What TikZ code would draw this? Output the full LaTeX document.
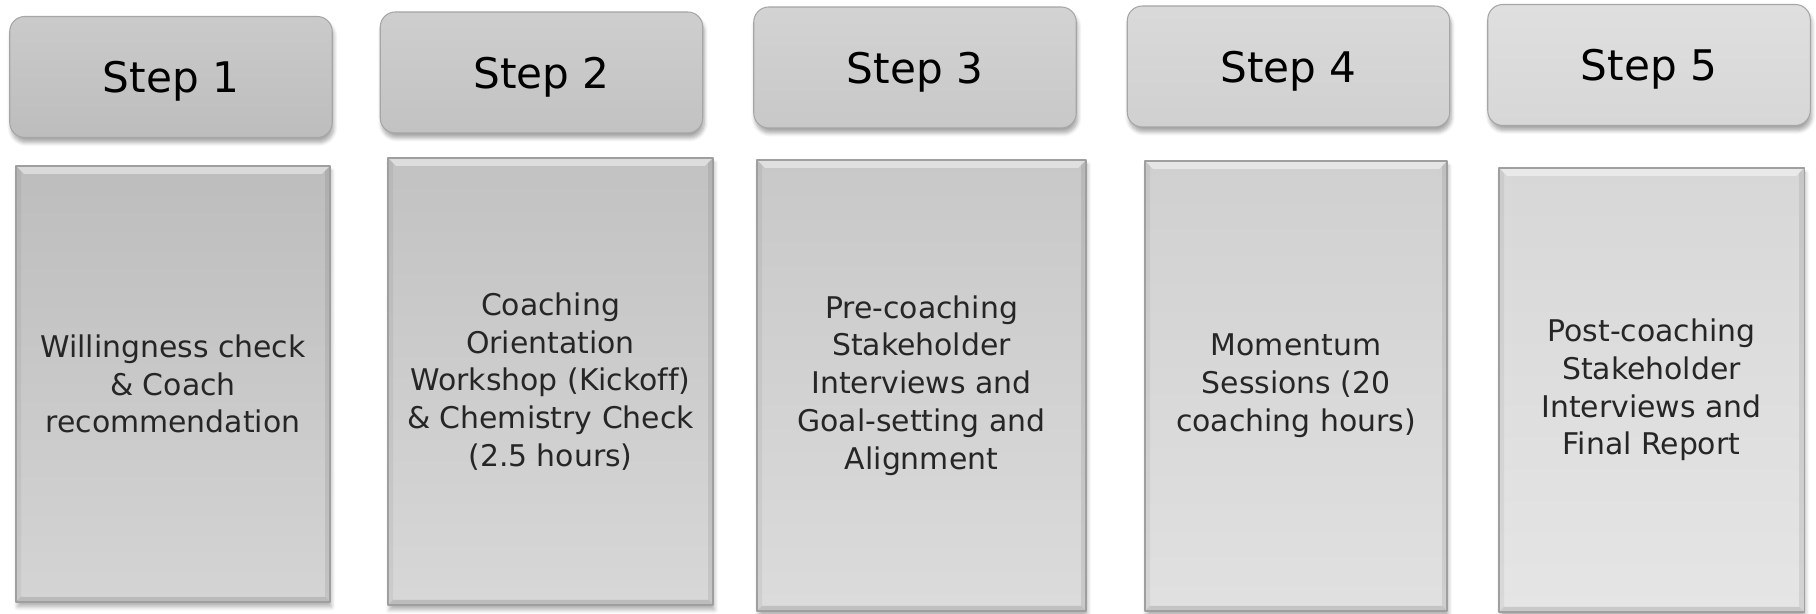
\documentclass[tikz,border=0pt]{standalone}
\usepackage{fontspec}
\setmainfont[Ligatures={NoCommon}]{DejaVu Sans}
\usepackage{tikz}
\usetikzlibrary{calc,shadows.blur}

\definecolor{stepA}{HTML}{BDBDBD}
\definecolor{stepB}{HTML}{C2C2C2}
\definecolor{stepC}{HTML}{C8C8C8}
\definecolor{stepD}{HTML}{D0D0D0}
\definecolor{stepE}{HTML}{D7D7D7}

\newcommand{\bodybevel}{%
  \fill[white,opacity=.45] (path picture bounding box.north west) -- (path picture bounding box.north east)
    -- ++(-0.16cm,-0.16cm) -- ($(path picture bounding box.north west)+(0.16cm,-0.16cm)$) -- cycle;
  \fill[black,opacity=.08] (path picture bounding box.north east) -- (path picture bounding box.south east)
    -- ++(-0.1cm,0.1cm) -- ($(path picture bounding box.north east)+(-0.1cm,-0.1cm)$) -- cycle;
  \fill[black,opacity=.12] (path picture bounding box.south west) -- (path picture bounding box.south east)
    -- ++(-0.1cm,0.1cm) -- ($(path picture bounding box.south west)+(0.1cm,0.1cm)$) -- cycle;
  \fill[black,opacity=.05] (path picture bounding box.north west) -- (path picture bounding box.south west)
    -- ++(0.1cm,0.1cm) -- ($(path picture bounding box.north west)+(0.1cm,-0.1cm)$) -- cycle;}

\tikzset{
  stephead/.style={rounded corners=0.3cm, draw=gray!70, line width=0.6pt,
    top color=#1!80!white, bottom color=#1, inner sep=0pt,
    minimum width=6.45cm, minimum height=2.42cm, text depth=0pt,
    font=\fontsize{24}{28}\selectfont,
    blur shadow={shadow xshift=0.03cm, shadow yshift=-0.1cm, shadow opacity=35, shadow blur steps=6}},
  stepbody/.style={draw=gray!75, line width=0.6pt,
    top color=#1, bottom color=#1!65!white, inner sep=0pt, align=center,
    font=\fontsize{17}{21.5}\selectfont, text=black!85,
    path picture={\bodybevel},
    blur shadow={shadow xshift=0.03cm, shadow yshift=-0.1cm, shadow opacity=30, shadow blur steps=6}}
}

\begin{document}
\begin{tikzpicture}[line join=round]
  \useasboundingbox (0,0) rectangle (36.32,12.28);

  % Headers
  \node[stephead=stepA] (step1) at (3.42,10.74) {Step 1};
  \node[stephead=stepB] (step2) at (10.83,10.83) {Step 2};
  \node[stephead=stepC] (step3) at (18.30,10.93) {Step 3};
  \node[stephead=stepD] (step4) at (25.77,10.95) {Step 4};
  \node[stephead=stepE] (step5) at (32.98,10.98) {Step 5};

  % Descriptions
  \node[stepbody=stepA, minimum width=6.28cm, minimum height=8.72cm] (task1) at (3.46,4.60)
    {Willingness check\\ \& Coach\\ recommendation};
  \node[stepbody=stepB, minimum width=6.50cm, minimum height=8.94cm] (task2) at (11.01,4.65)
    {Coaching\\ Orientation\\ Workshop (Kickoff)\\ \& Chemistry Check\\ (2.5 hours)};
  \node[stepbody=stepC, minimum width=6.58cm, minimum height=9.02cm] (task3) at (18.43,4.57)
    {Pre-coaching\\ Stakeholder\\ Interviews and\\ Goal-setting and\\ Alignment};
  \node[stepbody=stepD, minimum width=6.04cm, minimum height=9.00cm] (task4) at (25.92,4.56)
    {Momentum\\ Sessions (20\\ coaching hours)};
  \node[stepbody=stepE, minimum width=6.10cm, minimum height=8.88cm] (task5) at (33.03,4.48)
    {Post-coaching\\ Stakeholder\\ Interviews and\\ Final Report};
\end{tikzpicture}
\end{document}
